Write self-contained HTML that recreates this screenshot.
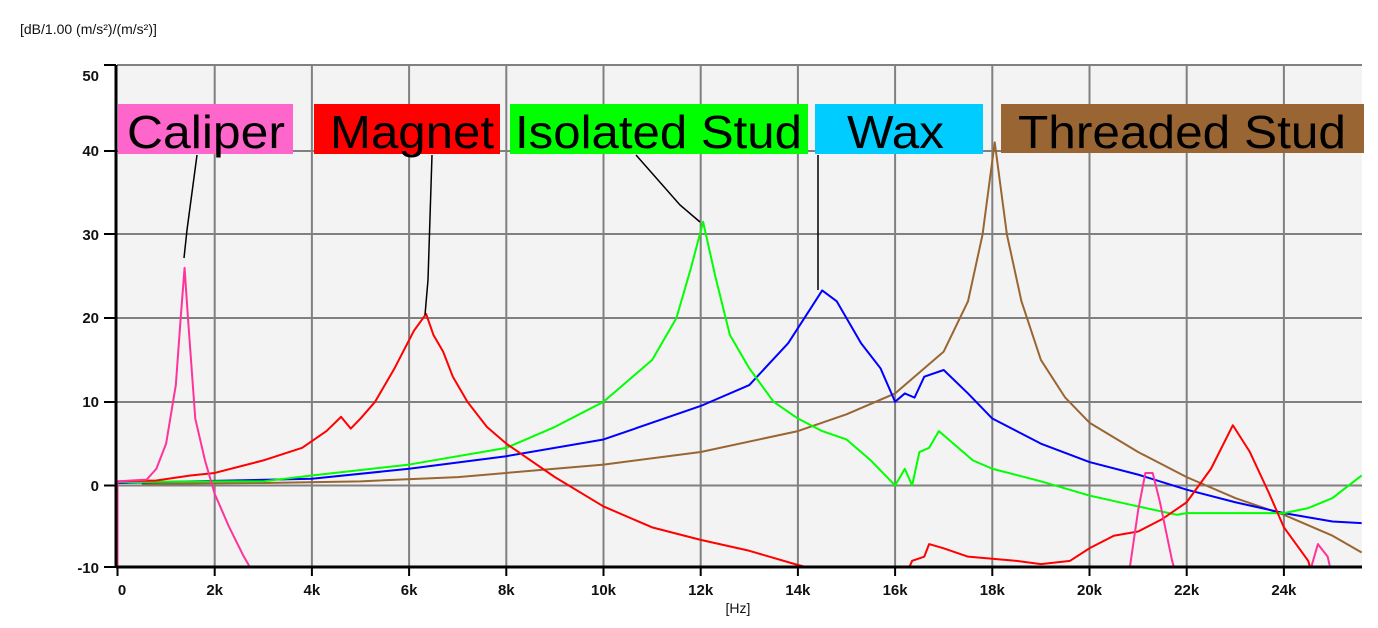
<!DOCTYPE html>
<html><head><style>
body{margin:0;background:#fff;width:1378px;height:623px;overflow:hidden;font-family:"Liberation Sans",Arial,sans-serif}
.t{font-family:"Liberation Sans",Arial,sans-serif}
</style></head><body>
<svg width="1378" height="623" viewBox="0 0 1378 623" xmlns="http://www.w3.org/2000/svg">
<defs><clipPath id="c"><rect x="117" y="65" width="1245" height="502"/></clipPath></defs>
<rect x="117" y="65" width="1245" height="502" fill="#f3f3f3"/>
<g stroke="#808080" stroke-width="2">
<line x1="117" y1="65" x2="1362" y2="65"/><line x1="117" y1="151" x2="1362" y2="151"/><line x1="117" y1="234" x2="1362" y2="234"/><line x1="117" y1="318" x2="1362" y2="318"/><line x1="117" y1="402" x2="1362" y2="402"/><line x1="117" y1="485.5" x2="1362" y2="485.5"/>
<line x1="214.7" y1="65" x2="214.7" y2="567"/><line x1="311.9" y1="65" x2="311.9" y2="567"/><line x1="409.1" y1="65" x2="409.1" y2="567"/><line x1="506.3" y1="65" x2="506.3" y2="567"/><line x1="603.5" y1="65" x2="603.5" y2="567"/><line x1="700.7" y1="65" x2="700.7" y2="567"/><line x1="797.9" y1="65" x2="797.9" y2="567"/><line x1="895.1" y1="65" x2="895.1" y2="567"/><line x1="992.3" y1="65" x2="992.3" y2="567"/><line x1="1089.5" y1="65" x2="1089.5" y2="567"/><line x1="1186.7" y1="65" x2="1186.7" y2="567"/><line x1="1283.9" y1="65" x2="1283.9" y2="567"/>
</g>
<g clip-path="url(#c)"><g transform="translate(117.5,485.5) scale(48.6,-8.37)" fill="none" stroke-width="2" stroke-linejoin="round">
<polyline vector-effect="non-scaling-stroke" stroke="#996633" points="0.5,0.2 3,0.3 5,0.5 7,1 9,2 10,2.5 12,4 14,6.5 15,8.5 16,11 16.5,13.5 17,16 17.5,22 17.8,30 18.05,41 18.3,30 18.6,22 19,15 19.5,10.5 20,7.5 21,4 22,1 23,-1.5 24,-3.5 25,-6 25.6,-8"/>
<polyline vector-effect="non-scaling-stroke" stroke="#0000ff" points="0,0.3 4,0.8 6,2 8,3.5 10,5.5 12,9.5 13,12 13.8,17 14.3,21.5 14.5,23.3 14.8,22 15.3,17 15.7,14 16,10 16.2,11 16.4,10.5 16.6,13 17,13.8 17.5,11 18,8 19,5 20,2.8 21,1.3 22,-0.5 23,-2 24,-3.3 25,-4.3 25.6,-4.5"/>
<polyline vector-effect="non-scaling-stroke" stroke="#00ff00" points="0,0.4 2,0.5 3,0.5 4,1.2 6,2.5 8,4.5 9,7 10,10 11,15 11.5,20 11.8,26 12.05,31.5 12.3,25 12.6,18 13,14 13.5,10 14,8 14.5,6.5 15,5.5 15.5,3 16,0 16.2,2 16.35,0 16.5,4 16.7,4.5 16.9,6.5 17.2,5 17.6,3 18,2 19,0.5 20,-1.2 21,-2.5 21.8,-3.5 22,-3.3 24,-3.3 24.5,-2.7 25,-1.5 25.6,1.2"/>
<polyline vector-effect="non-scaling-stroke" stroke="#ff0000" points="0,0.5 0.8,0.6 1.5,1.2 2,1.5 3,3 3.8,4.5 4.3,6.5 4.6,8.2 4.8,6.8 5,8 5.3,10 5.7,14 6.1,18.5 6.35,20.5 6.5,18 6.7,16 6.9,13 7.2,10 7.6,7 8,5 9,1 10,-2.5 11,-5 12,-6.5 13,-7.8 14,-9.5 14.5,-10.2 14.6,-11"/>
<polyline vector-effect="non-scaling-stroke" stroke="#ff0000" points="16.2,-11 16.35,-9 16.6,-8.5 16.7,-7 17,-7.5 17.5,-8.5 18.5,-9 19,-9.4 19.6,-9 20,-7.5 20.5,-6 21,-5.5 21.5,-4 22,-2 22.5,2 22.95,7.2 23.3,4 23.7,-1 24,-5 24.5,-9 24.6,-11"/>
<polyline vector-effect="non-scaling-stroke" stroke="#ff3399" points="0,-12 0,0.5 0.6,0.7 0.8,2 1,5 1.2,12 1.3,20 1.38,26 1.45,20 1.6,8 1.8,3 2,-1 2.3,-5 2.6,-8.5 2.8,-10.5"/>
<polyline vector-effect="non-scaling-stroke" stroke="#ff3399" points="20.8,-11 21,-3 21.15,1.5 21.3,1.5 21.45,-2 21.7,-9 21.8,-11"/>
<polyline vector-effect="non-scaling-stroke" stroke="#ff3399" points="24.5,-11 24.7,-7 24.9,-8.5 25,-11"/>
</g></g>
<g stroke="#000" stroke-width="1.5" fill="none">
<polyline points="184,258 187,230 197,155"/><polyline points="425,315 428,280 432,155"/><polyline points="700,222 680,205 636,155"/><polyline points="818,290 818,155"/>
</g>
<g stroke="#000" stroke-width="3">
<line x1="116" y1="65" x2="116" y2="568"/><line x1="116" y1="567" x2="1362" y2="567"/>
</g>
<g stroke="#000" stroke-width="2">
<line x1="104" y1="65" x2="116" y2="65"/><line x1="104" y1="151" x2="116" y2="151"/><line x1="104" y1="234" x2="116" y2="234"/><line x1="104" y1="318" x2="116" y2="318"/><line x1="104" y1="402" x2="116" y2="402"/><line x1="104" y1="485.5" x2="116" y2="485.5"/><line x1="104" y1="567" x2="116" y2="567"/>
<line x1="117.5" y1="567" x2="117.5" y2="576"/><line x1="214.7" y1="567" x2="214.7" y2="576"/><line x1="311.9" y1="567" x2="311.9" y2="576"/><line x1="409.1" y1="567" x2="409.1" y2="576"/><line x1="506.3" y1="567" x2="506.3" y2="576"/><line x1="603.5" y1="567" x2="603.5" y2="576"/><line x1="700.7" y1="567" x2="700.7" y2="576"/><line x1="797.9" y1="567" x2="797.9" y2="576"/><line x1="895.1" y1="567" x2="895.1" y2="576"/><line x1="992.3" y1="567" x2="992.3" y2="576"/><line x1="1089.5" y1="567" x2="1089.5" y2="576"/><line x1="1186.7" y1="567" x2="1186.7" y2="576"/><line x1="1283.9" y1="567" x2="1283.9" y2="576"/>
</g>
<g class="t" font-size="15" fill="#111" text-anchor="end" font-weight="bold">
<text x="99" y="81">50</text><text x="99" y="156">40</text><text x="99" y="240">30</text><text x="99" y="323">20</text><text x="99" y="407">10</text><text x="99" y="491">0</text><text x="99" y="573">-10</text>
</g>
<g class="t" font-size="15" fill="#111" text-anchor="middle" font-weight="bold">
<text x="122" y="595">0</text><text x="214.7" y="595">2k</text><text x="311.9" y="595">4k</text><text x="409.1" y="595">6k</text><text x="506.3" y="595">8k</text><text x="603.5" y="595">10k</text><text x="700.7" y="595">12k</text><text x="797.9" y="595">14k</text><text x="895.1" y="595">16k</text><text x="992.3" y="595">18k</text><text x="1089.5" y="595">20k</text><text x="1186.7" y="595">22k</text><text x="1283.9" y="595">24k</text>
<text x="738" y="613" font-weight="normal" font-size="14">[Hz]</text>
</g>
<text class="t" x="20" y="34" font-size="14" fill="#111">[dB/1.00 (m/s²)/(m/s²)]</text>
<rect x="118" y="104" width="175" height="50" fill="#ff66cc"/>
<rect x="314" y="104" width="186" height="50" fill="#ff0000"/>
<rect x="510" y="104" width="298" height="50" fill="#00ff00"/>
<rect x="815" y="104" width="168" height="50" fill="#00ccff"/>
<rect x="1001" y="104" width="363" height="49" fill="#996633"/>
<g class="t" font-size="46" fill="#000" lengthAdjust="spacingAndGlyphs">
<text x="127" y="148" textLength="158" lengthAdjust="spacingAndGlyphs">Caliper</text>
<text x="330" y="148" textLength="164" lengthAdjust="spacingAndGlyphs">Magnet</text>
<text x="515" y="148" textLength="287" lengthAdjust="spacingAndGlyphs">Isolated Stud</text>
<text x="847" y="148" textLength="97" lengthAdjust="spacingAndGlyphs">Wax</text>
<text x="1018" y="148" textLength="328" lengthAdjust="spacingAndGlyphs">Threaded Stud</text>
</g>
</svg>
</body></html>
